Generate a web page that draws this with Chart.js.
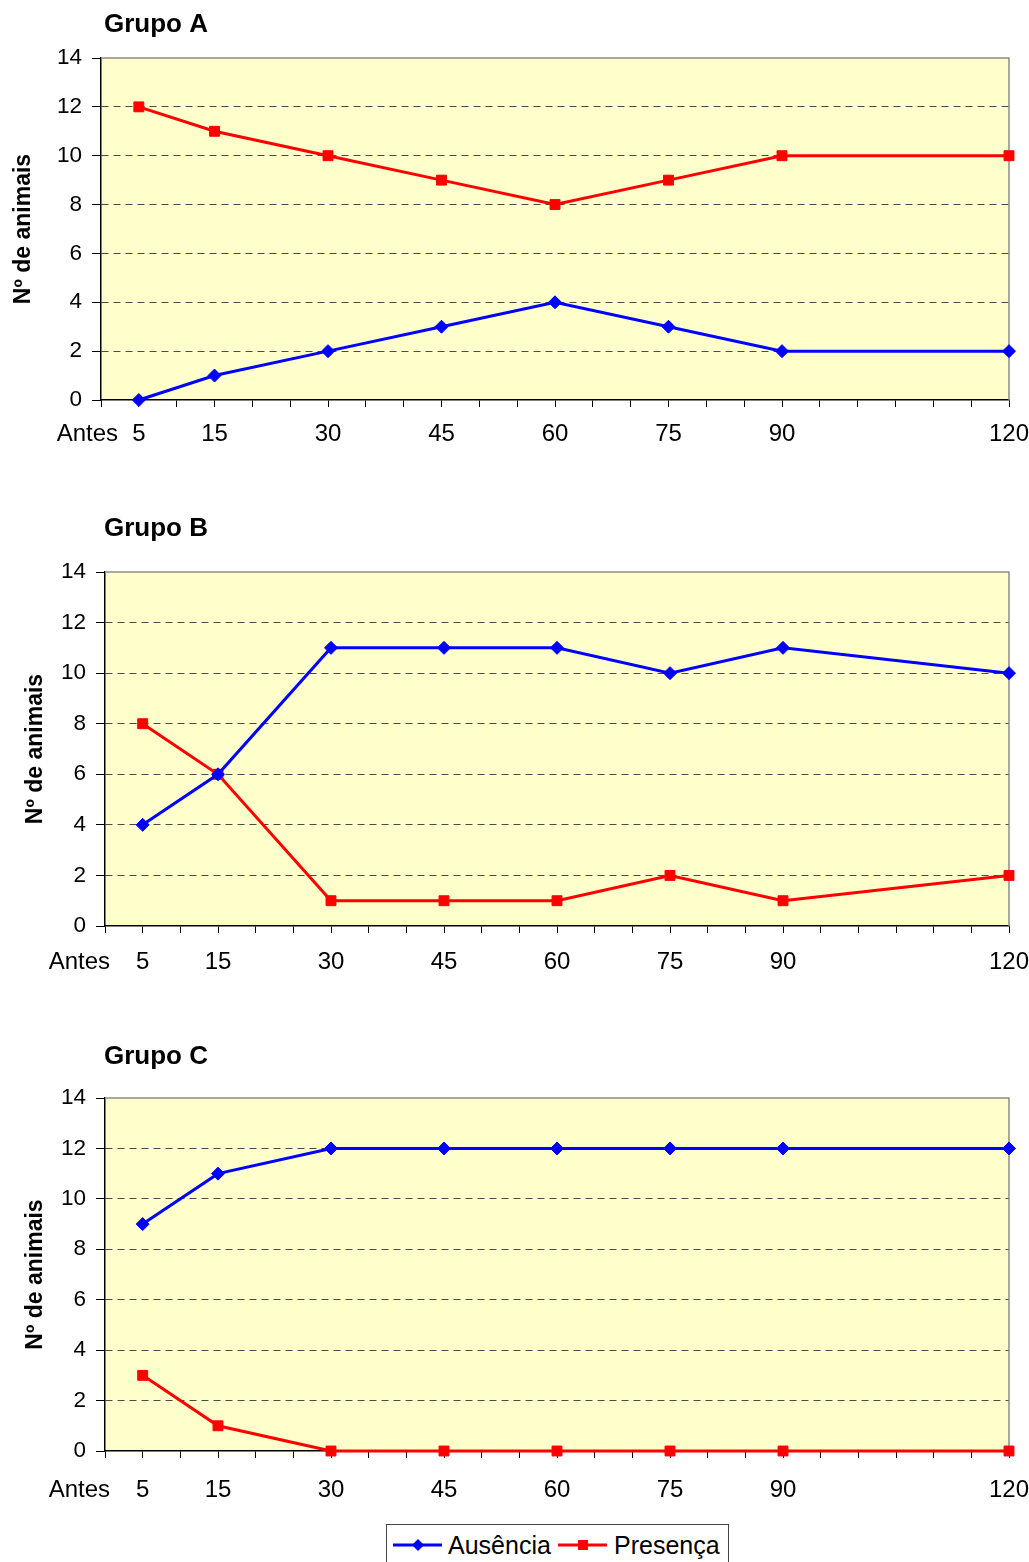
<!DOCTYPE html>
<html>
<head>
<meta charset="utf-8">
<script src="https://cdn.jsdelivr.net/npm/chart.js@4.4.1/dist/chart.umd.min.js"></script>
<style>
  html, body { margin: 0; padding: 0; background: #fff; }
  body { width: 1029px; height: 1562px; position: relative; overflow: hidden; font-family: "Liberation Sans", Arial, sans-serif; }
  canvas { position: absolute; left: 0; }
  #legend { position: absolute; left: 386px; top: 1524px; width: 341px; height: 44px; border: 1px solid #444; background: #fff;
            font-family: "Liberation Sans", Arial, sans-serif; font-size: 25px; color: #000; }
  #legend .item { position: absolute; top: 5px; height: 30px; line-height: 30px; white-space: nowrap; }
  #legend svg { position: absolute; top: 5px; }
  #legend span { position: absolute; top: 0; }
</style>
</head>
<body>
<canvas id="cA" width="1029" height="470" style="top:0px"></canvas>
<canvas id="cB" width="1029" height="520" style="top:480px"></canvas>
<canvas id="cC" width="1029" height="520" style="top:1000px"></canvas>
<div id="legend">
  <div class="item" style="left:6px">
    <svg width="50" height="20" style="left:0"><line x1="0" y1="10" x2="49" y2="10" stroke="#0000FF" stroke-width="3"/><polygon points="25,4 31,10 25,16 19,10" fill="#0000FF"/></svg>
    <span style="left:55px">Ausência</span>
  </div>
  <div class="item" style="left:171px">
    <svg width="50" height="20" style="left:0"><line x1="0" y1="10" x2="49" y2="10" stroke="#FF0000" stroke-width="3"/><rect x="20" y="5" width="10" height="10" fill="#FF0000"/></svg>
    <span style="left:56px">Presença</span>
  </div>
</div>
<script>
// ---- data ----
const xValues = [5, 15, 30, 45, 60, 75, 90, 120];
const xTickLabels = [5, 15, 30, 45, 60, 75, 90, 120];
const yTicksMax = 14;
const seriesNames = ["Ausência", "Presença"];

const grupoA_ausencia = [0, 1, 2, 3, 4, 3, 2, 2];
const grupoA_presenca = [12, 11, 10, 9, 8, 9, 10, 10];

const grupoB_ausencia = [4, 6, 11, 11, 11, 10, 11, 10];
const grupoB_presenca = [8, 6, 1, 1, 1, 2, 1, 2];

const grupoC_ausencia = [9, 11, 12, 12, 12, 12, 12, 12];
const grupoC_presenca = [3, 1, 0, 0, 0, 0, 0, 0];

const panelTitles = ["Grupo A", "Grupo B", "Grupo C"];
const yAxisTitle = "Nº de animais";
const beforeLabel = "Antes";

// ---- helpers ----
const FONT = "'Liberation Sans', Arial, sans-serif";
const X_FONT_SIZE = 24;
const toPoints = (arr) => xValues.map((x, i) => ({ x: x, y: arr[i] }));

const decorPlugin = {
  id: 'decor',
  beforeDraw(chart) {
    const a = chart.chartArea, ctx = chart.ctx;
    ctx.save();
    ctx.fillStyle = '#FFFFCC';
    ctx.fillRect(a.left, a.top, a.right - a.left, a.bottom - a.top);
    ctx.restore();
  },
  beforeDatasetsDraw(chart) {
    const a = chart.chartArea, ctx = chart.ctx;
    ctx.save();
    ctx.strokeStyle = '#8c8c8c';
    ctx.lineWidth = 1.5;
    ctx.beginPath();
    ctx.moveTo(a.left, a.top);
    ctx.lineTo(a.right, a.top);
    ctx.lineTo(a.right, a.bottom);
    ctx.stroke();
    ctx.restore();
  },
  afterDraw(chart, args, opts) {
    const ctx = chart.ctx;
    const xs = chart.scales.x;
    ctx.save();
    ctx.fillStyle = '#000';
    ctx.font = 'bold 26px ' + FONT;
    ctx.textAlign = 'left';
    ctx.textBaseline = 'middle';
    ctx.fillText(opts.title, opts.titleX, opts.titleY);
    ctx.font = X_FONT_SIZE + 'px ' + FONT;
    ctx.textAlign = 'right';
    const lh = X_FONT_SIZE * 1.2;
    const y = xs.top + 7 + opts.xPad + lh / 2;
    ctx.fillText(beforeLabel, opts.antesRight, y);
    ctx.restore();
  }
};

function makeChart(id, title, aus, pres, g) {
  const canvas = document.getElementById(id);
  return new Chart(canvas, {
    type: 'line',
    data: {
      datasets: [
        {
          label: seriesNames[0], data: toPoints(aus),
          borderColor: '#0000FF', backgroundColor: '#0000FF', borderWidth: 3,
          pointStyle: 'rectRot', pointRadius: 6.5, pointBorderWidth: 1,
          pointBackgroundColor: '#0000FF', pointBorderColor: '#0000FF',
          tension: 0, clip: false, fill: false
        },
        {
          label: seriesNames[1], data: toPoints(pres),
          borderColor: '#FF0000', backgroundColor: '#FF0000', borderWidth: 3,
          pointStyle: 'rect', pointRadius: 7, pointBorderWidth: 1,
          pointBackgroundColor: '#FF0000', pointBorderColor: '#FF0000',
          tension: 0, clip: false, fill: false
        }
      ]
    },
    options: {
      responsive: false,
      animation: false,
      devicePixelRatio: 1,
      layout: { padding: { top: g.padTop, right: 1029 - g.right, bottom: 0, left: 0 } },
      plugins: {
        legend: { display: false },
        tooltip: { enabled: false },
        title: { display: false },
        decor: { title: title, titleX: 104, titleY: g.titleY, antesRight: g.antesRight, xPad: g.xPad }
      },
      scales: {
        x: {
          type: 'linear', min: 0, max: 120,
          afterFit(s) { s.height = g.xHeight; s.paddingLeft = 0; s.paddingRight = 0; },
          afterBuildTicks(s) {
            const t = [];
            for (let v = 0; v <= 120; v += 5) t.push({ value: v });
            s.ticks = t;
          },
          ticks: {
            autoSkip: false, maxRotation: 0, minRotation: 0,
            padding: g.xPad, color: '#000',
            font: { family: FONT, size: X_FONT_SIZE },
            callback: (v) => xTickLabels.includes(v) ? String(v) : ''
          },
          grid: {
            drawOnChartArea: false, drawTicks: true, tickLength: 7,
            tickColor: '#000', tickWidth: 1, color: '#000', tickBorderDash: []
          },
          border: { display: true, color: '#000', width: 1.5 }
        },
        y: {
          min: 0, max: yTicksMax,
          afterFit(s) { s.width = g.left; s.paddingTop = 0; s.paddingBottom = 0; },
          ticks: {
            stepSize: 2, padding: 10, color: '#000',
            font: { family: FONT, size: 22.5 }
          },
          grid: {
            drawOnChartArea: true, drawTicks: true, tickLength: 9,
            color: (c) => (c.tick && (c.tick.value === 0 || c.tick.value === yTicksMax)) ? 'rgba(0,0,0,0)' : '#4a4a4a',
            tickColor: '#000', tickWidth: 1, tickBorderDash: [], lineWidth: 1
          },
          border: { display: true, color: '#000', width: 1.5, dash: [7, 5] },
          title: {
            display: true, text: yAxisTitle, color: '#000',
            font: { family: FONT, size: 23, weight: 'bold' },
            padding: { top: g.yTitlePad, bottom: 0 }
          }
        }
      }
    },
    plugins: [decorPlugin]
  });
}

makeChart('cA', panelTitles[0], grupoA_ausencia, grupoA_presenca,
  { padTop: 58, right: 1009, left: 101, xHeight: 70, titleY: 25, antesRight: 118, xPad: 13, yTitlePad: 10 });
makeChart('cB', panelTitles[1], grupoB_ausencia, grupoB_presenca,
  { padTop: 92, right: 1009, left: 105, xHeight: 74, titleY: 49, antesRight: 110, xPad: 15, yTitlePad: 22 });
makeChart('cC', panelTitles[2], grupoC_ausencia, grupoC_presenca,
  { padTop: 98, right: 1009, left: 105, xHeight: 69, titleY: 57, antesRight: 110, xPad: 18, yTitlePad: 22 });
</script>
</body>
</html>
